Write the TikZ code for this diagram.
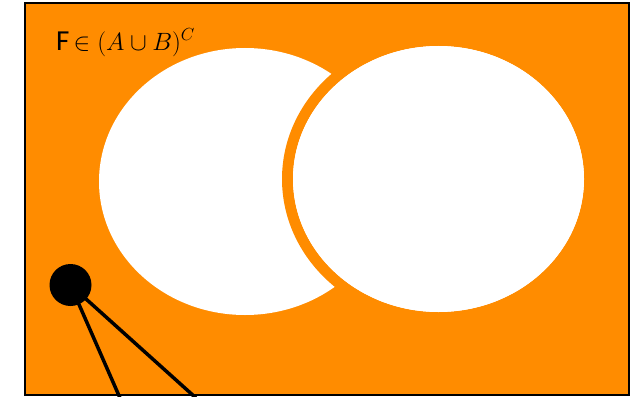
\RequirePackage{fix-cm}
\documentclass[tikz,border=0pt]{standalone}
\usepackage{fontspec}
\setmainfont{Carlito}
\definecolor{vennorange}{RGB}{255,140,0}
\begin{document}
\begin{tikzpicture}[x=1pt,y=-1pt,
  universe/.style={fill=vennorange,draw=black,line width=2pt},
  setA/.style={fill=white,draw=none},
  setB/.style={fill=white,draw=vennorange,line width=11pt},
  pin/.style={fill=black},
  stick/.style={draw=black,line width=3.5pt}]
\useasboundingbox (0,0) rectangle (639,396);
\begin{scope}
\clip (0,0) rectangle (639,396);
\draw[universe] (25,3) rectangle (629,395);
\fill[setA] (245,181.5) ellipse [x radius=146, y radius=133.5];
\draw[setB] (438.5,179) ellipse [x radius=151, y radius=138.5];
\fill[white] (438.5,179) ellipse [x radius=145.5, y radius=133];
\coordinate (e1) at (120,398);
\coordinate (e2) at (196,398);
\node[circle,pin,minimum size=42pt,inner sep=0pt] (dot) at (70.5,285) {};
\draw[stick] (dot.center) -- (e1);
\draw[stick] (dot.center) -- (e2);
\end{scope}
\node[anchor=base west,inner sep=0pt,font=\fontsize{25}{30}\selectfont] (lbl) at (56,50) {{\fontsize{29}{32}\selectfont F}\,$\in(A\cup B)^C$};
\end{tikzpicture}
\end{document}
